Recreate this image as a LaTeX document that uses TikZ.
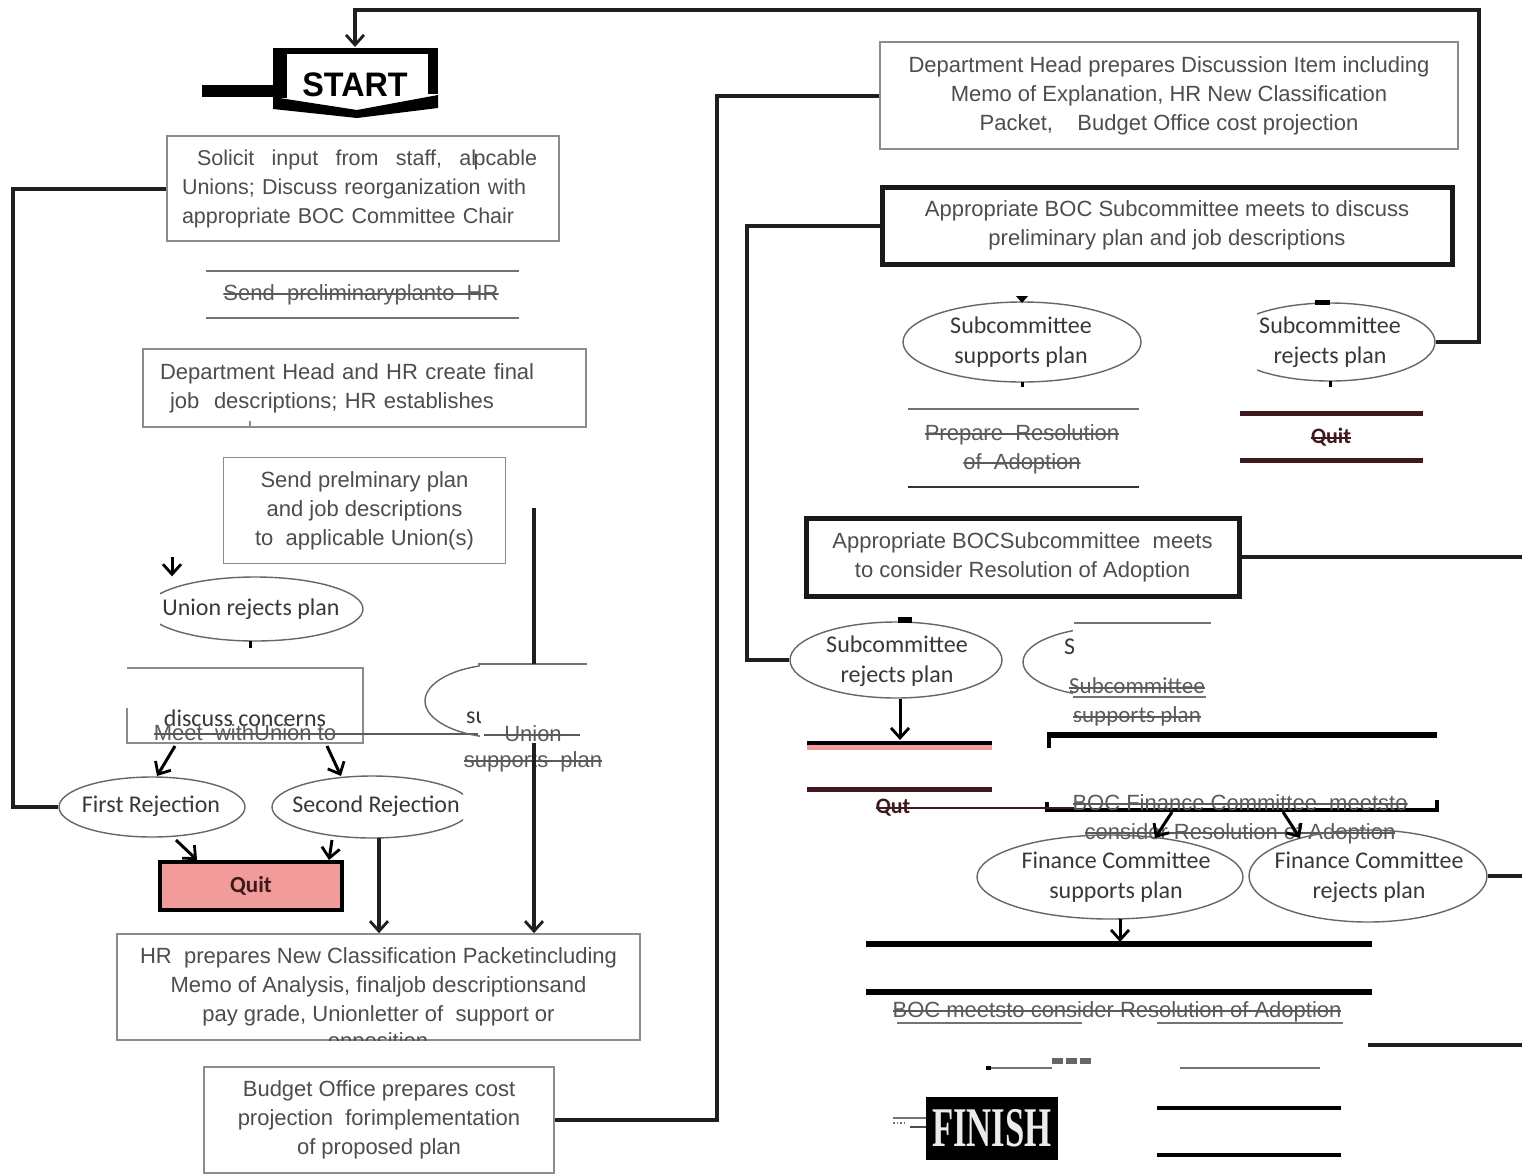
\documentclass[tikz,border=0pt]{standalone}
\usepackage{fontspec}
\setmainfont{Liberation Sans}
\newfontfamily\cfont{Carlito}
\newfontfamily\ffont{Liberation Serif}
\usetikzlibrary{arrows.meta,shapes.geometric}
\definecolor{txt}{HTML}{4D4D4D}
\definecolor{bord}{HTML}{8C8C8C}
\definecolor{quitpink}{HTML}{F29B9B}
\definecolor{quitdark}{HTML}{3E1A1C}
\definecolor{skg}{HTML}{5A5A5A}
\begin{document}
\begin{tikzpicture}[x=1pt,y=-1pt,
  conn/.style={draw=black!88,line width=4pt},
  tip/.style={-{Straight Barb[length=10pt,width=18pt,line width=2.8pt]}},
  arw/.style={draw=black,line width=3pt,tip},
  gbox/.style={draw=bord,line width=1.6pt,text=txt,inner sep=0pt,align=center,font=\fontsize{22}{29}\selectfont},
  kbox/.style={draw=black!90,line width=5pt,text=txt,inner sep=0pt,align=center,font=\fontsize{22}{29}\selectfont},
  ell/.style={ellipse,draw=black!60,line width=1.4pt,inner sep=0pt},
  ctxt/.style={inner sep=0pt,text=black!78,align=center,font=\cfont\fontsize{24}{30}\selectfont},
  lbl/.style={inner sep=0pt,text=txt,font=\fontsize{22}{29}\selectfont},
  strk/.style={inner sep=0pt,text=skg,font=\fontsize{22}{29}\selectfont,text height=12pt,text depth=0pt,
    path picture={\draw[skg,line width=1.3pt] (path picture bounding box.west) -- (path picture bounding box.east);}},
  strkc/.style={strk,font=\cfont\fontsize{23}{29}\selectfont,text height=11pt},
  strkq/.style={inner sep=0pt,text=quitdark,font=\cfont\bfseries\fontsize{22}{28}\selectfont,text height=10pt,text depth=0pt,
    path picture={\draw[quitdark,line width=1.5pt] (path picture bounding box.west) -- (path picture bounding box.east);}},
  rulel/.style={draw=black!55,line width=1.5pt},
  heavy/.style={draw=black,line width=6pt},
  qline/.style={draw=quitdark,line width=5pt},
]
\useasboundingbox (0,0) rectangle (1522,1173);
\fill[white] (0,0) rectangle (1522,1173);

% ---------- START ----------
\fill[black] (273,48) rectangle (438,54);
\fill[black] (273,48) rectangle (287,98);
\fill[black] (428,48) rectangle (438,94);
\fill[black] (273,97) -- (357,110) -- (438,95) -- (438,108) -- (357,118) -- (273,109) -- cycle;
\node[font=\bfseries\fontsize{34}{34}\selectfont,inner sep=0pt,text=black] (start) at (355,85) {\scalebox{0.95}[1]{START}};
\coordinate (startTop) at (355,47);
\coordinate (stubL) at (202,91);
\coordinate (startL) at (280,91);

% ---------- left column ----------
\node[gbox,minimum width=392pt,minimum height=105pt,align=left,text width=362pt,font=\fontsize{21.5}{29}\selectfont] (sol) at (363,188.5)
 {\hspace*{15pt}\makebox[340pt]{Solicit\hfill input\hfill from\hfill staff,\hfill al\kern-2.5pt pcable}\\Unions; Discuss reorganization with\\appropriate BOC Committee Chair};

\draw[rulel] (206,271) -- (519,271);
\draw[rulel] (206,318) -- (519,318);
\node[strk] (sendhr) at (361,294) {Send\ \ preliminaryplanto\ \ HR};

\node[gbox,minimum width=443pt,minimum height=78pt,align=left,text width=409pt] (dhr) at (364.5,388)
 {Department Head and HR create final\\\hspace*{10pt}job\ \ descriptions; HR establishes};
\draw[bord,line width=1.5pt] (250,421) -- (250,427);

\node[gbox,minimum width=282pt,minimum height=106pt] (spu) at (364.5,510.5)
 {Send prelminary plan\\and job descriptions\\to\ \ applicable Union(s)};

\begin{scope}
\clip (160,560) rectangle (400,650);
\node[ell,minimum width=216pt,minimum height=64pt] (ur) at (255,609) {};
\end{scope}
\node[ctxt] (urt) at (251,609) {Union rejects plan};
\coordinate (ua) at (172,557);
\draw[black,line width=3pt] (250,641) -- (250,648);

\draw[draw=bord,line width=1.5pt] (127,708) -- (127,743) -- (363,743) -- (363,668) -- (127,668);
\node[ctxt] (dc) at (245,718) {discuss concerns};
\node[strk] (mwu) at (245,734) {Meet\ \ withUnion to};
\draw[skg,line width=1.3pt] (mwu.east) -- (478,734);

\node[ell,minimum width=160pt,minimum height=74pt] (us) at (505,701) {};
\fill[white] (480,662) rectangle (600,744);
\draw[rulel] (478,664) -- (587,664);
\begin{scope}
\clip (440,690) rectangle (480,740);
\node[ctxt,anchor=west] (usf) at (466,718) {su};
\end{scope}
\node[strk] (usu) at (533,735) {Union};
\draw[skg,line width=1.3pt] (484,735) -- (580,735);
\node[strk] (usp) at (533,761) {supports\ \ plan};

\node[ell,minimum width=186pt,minimum height=60pt] (fr) at (152,807) {};
\node[ctxt] (frt) at (151,806) {First Rejection};
\begin{scope}
\clip (250,760) rectangle (463,850);
\node[ell,minimum width=200pt,minimum height=62pt] (sr) at (372,807) {};
\node[ctxt] (srt) at (376,806) {Second Rejection};
\end{scope}

\node[draw=black,line width=4pt,fill=quitpink,minimum width=182pt,minimum height=48pt,inner sep=0pt,text=quitdark,font=\cfont\bfseries\fontsize{23}{28}\selectfont] (q1) at (251,886) {Quit};

\node[gbox,minimum width=523pt,minimum height=106pt] (hr) at (378.5,987)
 {HR\ \ prepares New Classification Packetincluding\\Memo of Analysis, finaljob descriptionsand\\pay grade, Unionletter of\ \ support or};
\begin{scope}
\clip (117,1030) rectangle (640,1040.5);
\node[lbl,anchor=base] (opp) at (378,1048) {opposition};
\end{scope}

\node[gbox,minimum width=350pt,minimum height=106pt] (bo) at (379,1120)
 {Budget\ Office prepares cost\\projection\ \ forimplementation\\of proposed plan};

% ---------- right column ----------
\node[gbox,minimum width=578pt,minimum height=107pt] (dh) at (1169,95.5)
 {Department Head prepares Discussion Item including\\Memo of Explanation, HR New Classification\\Packet,\ \ \ \ Budget Office cost projection};
\node[kbox,minimum width=570pt,minimum height=77pt] (ap1) at (1167,225.5)
 {Appropriate BOC Subcommittee meets to discuss\\preliminary plan and job descriptions};

\node[ell,minimum width=238pt,minimum height=80pt] (ss1) at (1022,342) {};
\node[ctxt] (ss1t) at (1021,342) {Subcommittee\\supports plan};
\begin{scope}
\clip (1257,290) rectangle (1450,400);
\node[ell,minimum width=210pt,minimum height=78pt] (scr) at (1330,342) {};
\end{scope}
\node[ctxt] (scrt) at (1330,342) {Subcommittee\\rejects plan};
\fill[black] (1016,296) -- (1028,296) -- (1022,303) -- cycle;
\draw[black,line width=3pt] (1022,382) -- (1022,387);
\fill[black] (1315,300) rectangle (1330,305);
\draw[black,line width=3pt] (1330,381) -- (1330,387);

\draw[rulel] (908,409) -- (1139,409);
\draw[draw=black!80,line width=1.3pt] (908,487) -- (1139,487);
\node[strk] (pr1) at (1022,434) {Prepare\ \ Resolution};
\node[strk] (pr2) at (1022,463) {of\ \ Adoption};
\draw[qline] (1240,413) -- (1423,413);
\draw[qline] (1240,460) -- (1423,460);
\node[strkq] (q2) at (1331,438) {Quit};

\node[kbox,minimum width=433pt,minimum height=78pt] (ap2) at (1022.5,557)
 {Appropriate BOCSubcommittee\ \ meets\\to consider Resolution of Adoption};
\coordinate (ap2r) at (1522,557);

\node[ell,minimum width=212pt,minimum height=76pt] (srl) at (896,660) {};
\node[ctxt] (srlt) at (897,661) {Subcommittee\\rejects plan};
\fill[black] (898,617) rectangle (912,623);
\fill[quitpink] (807,743) rectangle (992,750);
\draw[black,line width=4pt] (807,743) -- (992,743);
\draw[qline] (807,789) -- (992,789);
\node[strkq] (q3) at (893,808) {Qut};

\node[ell,minimum width=180pt,minimum height=70pt] (ss2) at (1113,662) {};
\fill[white] (1073,620) rectangle (1215,705);
\draw[rulel] (1074,623) -- (1211,623);
\begin{scope}
\clip (1050,630) rectangle (1073,670);
\node[ctxt,anchor=west] (ss2f) at (1064,647) {Su};
\end{scope}
\node[strkc] (ss2a) at (1137,688) {Subcommittee};
\draw[rulel] (1073,697) -- (1206,697);
\node[strkc] (ss2b) at (1137,717) {supports plan};

\draw[heavy] (1047,735) -- (1437,735);
\draw[black,line width=4pt] (1049,733) -- (1049,748);
\draw[black,line width=4pt] (1047,802) -- (1047,810) -- (1437,810) -- (1437,800);
\node[strk] (fin1) at (1240,804) {BOC Finance Committee\ \ meetsto};
\node[strk] (fin2) at (1240,833) {consider Resolution of Adoption};

\node[ell,minimum width=266pt,minimum height=84pt] (fs) at (1110,877) {};
\node[ctxt] (fst) at (1116,877) {Finance Committee\\supports plan};
\node[ell,minimum width=238pt,minimum height=92pt] (fr2) at (1368,876) {};
\node[ctxt] (fr2t) at (1369,877) {Finance Committee\\rejects plan};
\coordinate (fr2r) at (1522,876);

\draw[heavy] (866,944) -- (1372,944);
\draw[heavy] (866,992) -- (1372,992);
\node[strk] (boc) at (1117,1011) {BOC meetsto consider Resolution of Adoption};
\draw[rulel] (897,1023) -- (1082,1023);
\draw[rulel] (1157,1023) -- (1343,1023);
\draw[conn] (1368,1045) -- (1522,1045);
\draw[rulel] (986,1068) -- (1052,1068);
\fill[black] (986,1066) rectangle (991,1070);
\fill[black!60] (1052,1058) rectangle (1063,1064);
\fill[black!60] (1066,1058) rectangle (1077,1064);
\fill[black!60] (1080,1058) rectangle (1091,1064);
\draw[rulel] (1180,1068) -- (1320,1068);
\draw[black,line width=4pt] (1157,1108) -- (1341,1108);
\draw[black,line width=4pt] (1157,1155) -- (1341,1155);
\node[fill=black,minimum width=132pt,minimum height=63pt,inner sep=0pt,text=white!92!black,font=\ffont\bfseries\fontsize{56}{56}\selectfont] (finish) at (992,1128.5) {\scalebox{0.62}[1]{FINISH}};
\draw[rulel] (893,1118) -- (finish.west |- 0,1118);
\draw[black!70,line width=1.5pt] (910,1127) -- (finish.west |- 0,1127);
\draw[rulel,dotted] (893,1123) -- (906,1123);

% ---------- connectors ----------
\draw[black,line width=12pt] (stubL) -- (startL);
\draw[conn,tip] (scr.east) -- ++(43,0) |- (355,10) -- (startTop);
\draw[conn] (sol.west) -- ++(-153,0) |- (fr.west);
\draw[arw] (ua) -- (ua |- ur.north);
\draw[arw] (175,746) -- (157,776);
\draw[arw] (327,746) -- (341,776);
\draw[arw] (176,840) -- (197,860);
\draw[arw] (332,840) -- (329,860);
\coordinate (sdn) at (379,838);
\draw[conn,tip] (sdn) -- (sdn |- hr.north);
\coordinate (vt) at (534,508);
\draw[conn] (vt) -- (534,664);
\draw[conn,tip] (534,743) -- (hr.north -| vt);
\draw[conn] (bo.east) -- (717,1120) |- (dh.west);
\draw[conn] (ap1.west) -- (747,225.5) |- (srl.west);
\draw[conn] (ap2.east) -- (ap2r);
\draw[arw] (900,699) -- (900,740);
\draw[quitdark,line width=1.5pt] (q3.east) -- (1074,808);
\draw[arw] (1172,812) -- (1155,838);
\draw[arw] (1283,812) -- (1300,838);
\draw[arw] (1120,919) -- (1120,942);
\draw[conn] (fr2.east) -- (fr2r);
\end{tikzpicture}
\end{document}
